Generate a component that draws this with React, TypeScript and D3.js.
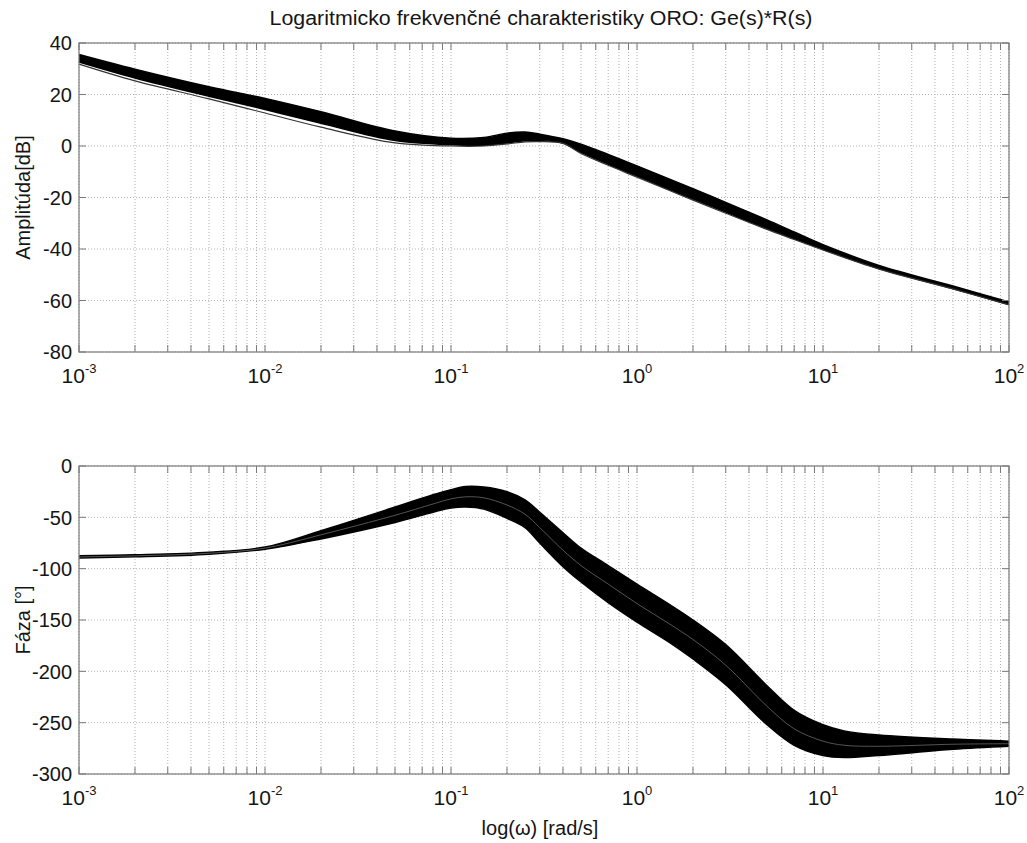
import React from 'react';
import * as d3 from 'd3';

const TITLE = 'Logaritmicko frekvenčné charakteristiky ORO: Ge(s)*R(s)';
const AMP_LABEL = 'Amplitúda[dB]';
const PHASE_LABEL = 'Fáza [°]';
const X_LABEL = 'log(ω) [rad/s]';

const X_DECADES = [-3, -2, -1, 0, 1, 2];
const AMP_TICKS = [40, 20, 0, -20, -40, -60, -80];
const PHASE_TICKS = [0, -50, -100, -150, -200, -250, -300];

// Amplitude bundle: upper edge, lower edge of the dense band, and the lowest stray curve
const AMP_FREQ = [0.001, 0.002, 0.005, 0.01, 0.02, 0.05, 0.1, 0.15, 0.2, 0.25, 0.3, 0.4, 0.5, 0.7, 1, 2, 3, 5, 7, 10, 20, 50, 100];
const AMP_UPPER = [35.5, 29.8, 23.0, 18.5, 13.3, 5.8, 3.0, 3.3, 5.0, 5.4, 4.6, 2.8, 0.7, -3.3, -7.7, -16.6, -21.9, -28.7, -33.4, -38.3, -46.4, -54.4, -60.6];
const AMP_BAND_LOWER = [32.6, 26.4, 19.3, 14.2, 8.8, 2.1, 0.5, 0.3, 1.2, 2.0, 2.0, 1.2, -2.5, -7.1, -11.7, -20.6, -25.7, -32.1, -36.0, -40.1, -47.6, -55.4, -61.6];
const AMP_STRAY = [31.8, 25.3, 18.3, 12.8, 7.3, 1.2, 0.0, 0.0, 0.8, 1.6, 1.7, 1.0, -2.9, -7.5, -12.1, -21.0, -26.1, -32.4, -36.3, -40.4, -47.8, -55.5, -61.7];

// Phase bundle
const PHASE_FREQ = [0.001, 0.002, 0.005, 0.01, 0.02, 0.05, 0.08, 0.1, 0.12, 0.15, 0.2, 0.25, 0.3, 0.4, 0.5, 0.7, 1, 1.5, 2, 3, 5, 7, 10, 13, 20, 50, 100];
const PHASE_UPPER = [-87.5, -86.5, -84, -79, -63, -40, -28, -23, -20, -20.5, -25, -33, -45, -65, -80, -97, -115, -135, -150, -174, -214, -238, -252, -258, -262, -266, -268];
const PHASE_INNER = [-88.5, -87.5, -85, -80, -67, -48, -37, -32, -30, -31, -38, -47, -60, -82, -97, -115, -134, -154, -169, -194, -234, -256, -268, -272, -273, -271, -270.5];
const PHASE_LOWER = [-89.5, -88.5, -86, -81, -71, -55, -45, -41, -40, -42, -51, -60, -75, -98, -113, -133, -152, -172, -188, -213, -252, -272, -282, -284, -282, -276, -273];

const W = 1027;
const H = 843;
const X0 = 79;
const X1 = 1009;
const FONT = 'Arial, "Liberation Sans", Helvetica, sans-serif';
const AXIS = '#7a7a7a';
const GRID = '#b4b4b4';
const TEXT = '#151515';

const xScale = d3.scaleLog().domain([1e-3, 1e2]).range([X0, X1]);

const minorTicks: number[] = [];
X_DECADES.slice(0, -1).forEach((d) => {
  for (let m = 2; m <= 9; m++) minorTicks.push(m * Math.pow(10, d));
});
const majorTicks = X_DECADES.map((d) => Math.pow(10, d));

type PanelProps = {
  top: number;
  bottom: number;
  domain: [number, number];
  ticks: number[];
  freq: number[];
  upper: number[];
  lower: number[];
  extra: number[];
  extraColor: string;
  extraWidth: number;
  label: string;
};

const CURVE = d3.curveCatmullRom.alpha(0.5);

function Panel({ top, bottom, domain, ticks, freq, upper, lower, extra, extraColor, extraWidth, label }: PanelProps) {
  const y = d3.scaleLinear().domain(domain).range([bottom, top]);
  const pts = freq.map((f, i) => ({ f, u: upper[i], l: lower[i], e: extra[i] }));
  const area = d3
    .area<any>()
    .x((d) => xScale(d.f))
    .y0((d) => y(d.l))
    .y1((d) => y(d.u))
    .curve(CURVE);
  const line = (key: 'u' | 'l' | 'e') =>
    d3
      .line<any>()
      .x((d) => xScale(d.f))
      .y((d) => y(d[key]))
      .curve(CURVE)(pts) as string;
  const tl = 7;
  const allX = [...majorTicks, ...minorTicks];
  return (
    <g>
      {allX.map((t, i) => (
        <line key={'gx' + i} x1={xScale(t)} x2={xScale(t)} y1={top} y2={bottom} stroke={GRID} strokeWidth={1} strokeDasharray="1,2" />
      ))}
      {ticks.map((t, i) => (
        <line key={'gy' + i} x1={X0} x2={X1} y1={y(t)} y2={y(t)} stroke={GRID} strokeWidth={1} strokeDasharray="1,2" />
      ))}
      <path d={area(pts) as string} fill="#000" />
      <path d={line('u')} fill="none" stroke="#000" strokeWidth={1.5} />
      <path d={line('l')} fill="none" stroke="#000" strokeWidth={1.5} />
      <path d={line('e')} fill="none" stroke={extraColor} strokeWidth={extraWidth} />
      <rect x={X0} y={top} width={X1 - X0} height={bottom - top} fill="none" stroke={AXIS} strokeWidth={1.2} />
      {allX.map((t, i) => (
        <g key={'tx' + i}>
          <line x1={xScale(t)} x2={xScale(t)} y1={bottom} y2={bottom - tl} stroke={AXIS} />
          <line x1={xScale(t)} x2={xScale(t)} y1={top} y2={top + tl} stroke={AXIS} />
        </g>
      ))}
      {ticks.map((t, i) => (
        <g key={'ty' + i}>
          <line x1={X0} x2={X0 + tl} y1={y(t)} y2={y(t)} stroke={AXIS} />
          <line x1={X1} x2={X1 - tl} y1={y(t)} y2={y(t)} stroke={AXIS} />
          <text x={X0 - 7} y={y(t)} dy="0.36em" textAnchor="end" fontSize={20} fill={TEXT} fontFamily={FONT}>
            {t}
          </text>
        </g>
      ))}
      {X_DECADES.map((d, i) => (
        <text key={'xl' + i} x={xScale(Math.pow(10, d))} y={bottom + 31} textAnchor="middle" fontSize={21} fill={TEXT} fontFamily={FONT}>
          <tspan>10</tspan>
          <tspan dy={-10} fontSize={13}>{d}</tspan>
        </text>
      ))}
      <text
        transform={`translate(${30},${(top + bottom) / 2}) rotate(-90)`}
        textAnchor="middle"
        fontSize={20}
        fill={TEXT}
        fontFamily={FONT}
      >
        {label}
      </text>
    </g>
  );
}

export default function App() {
  return (
    <svg width={W} height={H} style={{ display: 'block', position: 'absolute', left: 0, top: 0, background: '#fff' }}>
      <rect x={0} y={0} width={W} height={H} fill="#fff" />
      <text x={541} y={25} textAnchor="middle" fontSize={20} fill={TEXT} fontFamily={FONT} textLength={543} lengthAdjust="spacingAndGlyphs">
        {TITLE}
      </text>
      <Panel top={43} bottom={352} domain={[-80, 40]} ticks={AMP_TICKS} freq={AMP_FREQ} upper={AMP_UPPER} lower={AMP_BAND_LOWER} extra={AMP_STRAY} extraColor="#333" extraWidth={1.2} label={AMP_LABEL} />
      <Panel top={466} bottom={774} domain={[-300, 0]} ticks={PHASE_TICKS} freq={PHASE_FREQ} upper={PHASE_UPPER} lower={PHASE_LOWER} extra={PHASE_INNER} extraColor="#777" extraWidth={0.7} label={PHASE_LABEL} />
      <text x={540} y={835} textAnchor="middle" fontSize={20} fill={TEXT} fontFamily={FONT}>
        {X_LABEL}
      </text>
    </svg>
  );
}
